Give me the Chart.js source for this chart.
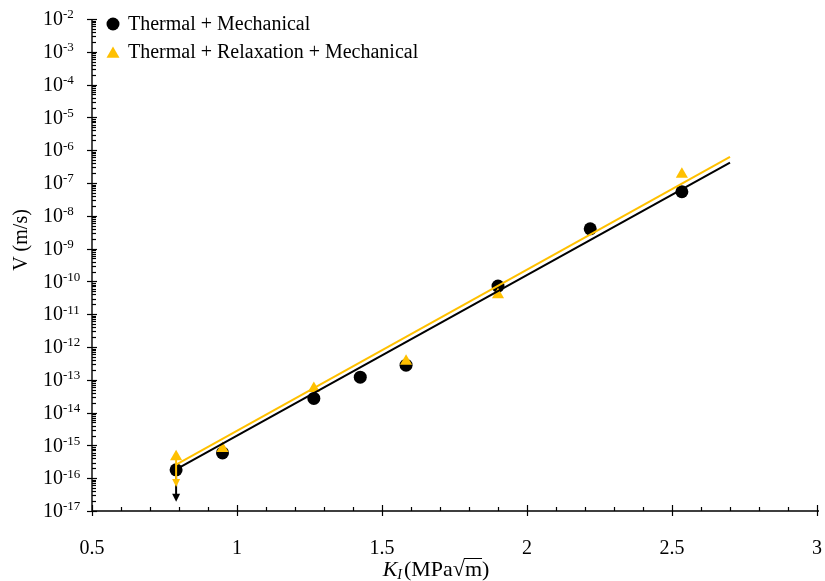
<!DOCTYPE html>
<html>
<head>
<meta charset="utf-8">
<script src="https://cdn.jsdelivr.net/npm/chart.js@4/dist/chart.umd.min.js"></script>
<style>
  html, body { margin: 0; padding: 0; background: #ffffff; }
  #wrap { width: 825px; height: 581px; }
</style>
</head>
<body>
<div id="wrap"><canvas id="c" width="825" height="581"></canvas></div>
<script>
// Crack velocity V versus stress intensity factor K_I
const kThermalMech = [0.79, 0.95, 1.265, 1.425, 1.583, 1.90, 2.218, 2.534];
const vThermalMech = [1.8e-16, 5.9e-16, 2.7e-14, 1.2e-13, 2.8e-13, 7.2e-11, 4.0e-9, 5.4e-8];

const kThermalRelaxMech = [0.79, 0.95, 1.265, 1.583, 1.90, 2.534];
const vThermalRelaxMech = [4.5e-16, 8.1e-16, 5.4e-14, 3.7e-13, 3.9e-11, 1.85e-7];

// Exponential fit lines (end points)
const fitK = [0.79, 2.70];
const fitThermalMech = [1.86e-16, 4.2e-7];
const fitThermalRelaxMech = [2.6e-16, 6.3e-7];

// Upper-bound arrows at the lowest K_I
const boundK = [0.79];
const boundEndThermalMech = [1.9e-17];
const boundEndThermalRelaxMech = [5.4e-17];

// Axis ticks
const xTickValues = [0.5, 1, 1.5, 2, 2.5, 3];
const xTickLabels = ['0.5', '1', '1.5', '2', '2.5', '3'];
const yExponents = [-17, -16, -15, -14, -13, -12, -11, -10, -9, -8, -7, -6, -5, -4, -3, -2];

const BLACK = '#000000';
const GOLD = '#FFC000';
const SERIF = "'Liberation Serif', 'Times New Roman', serif";

const pts = (xs, ys) => xs.map((x, i) => ({ x: x, y: ys[i] }));

function arrow(ctx, x, y0, y1, color) {
  ctx.save();
  ctx.strokeStyle = color;
  ctx.fillStyle = color;
  ctx.lineWidth = 2;
  ctx.beginPath();
  ctx.moveTo(x, y0);
  ctx.lineTo(x, y1 - 5);
  ctx.stroke();
  ctx.beginPath();
  ctx.moveTo(x - 4, y1 - 8);
  ctx.lineTo(x + 4, y1 - 8);
  ctx.lineTo(x, y1);
  ctx.closePath();
  ctx.fill();
  ctx.restore();
}

function triangle(ctx, x, y, r) {
  const a = Math.PI / 3;
  ctx.beginPath();
  ctx.moveTo(x, y - r);
  ctx.lineTo(x + Math.sin(a) * r, y + r / 2);
  ctx.lineTo(x - Math.sin(a) * r, y + r / 2);
  ctx.closePath();
  ctx.fill();
}

const boundsPlugin = {
  id: 'bounds',
  beforeDatasetsDraw(chart) {
    const ctx = chart.ctx, xs = chart.scales.x, ys = chart.scales.y;
    boundK.forEach((k, i) => {
      const px = xs.getPixelForValue(k);
      arrow(ctx, px, ys.getPixelForValue(vThermalMech[0]), ys.getPixelForValue(boundEndThermalMech[i]), BLACK);
    });
  },
  afterDatasetsDraw(chart) {
    const ctx = chart.ctx, xs = chart.scales.x, ys = chart.scales.y;
    boundK.forEach((k, i) => {
      const px = xs.getPixelForValue(k);
      arrow(ctx, px, ys.getPixelForValue(vThermalRelaxMech[0]), ys.getPixelForValue(boundEndThermalRelaxMech[i]), GOLD);
    });
  }
};

const axesPlugin = {
  id: 'axesDraw',
  afterDraw(chart) {
    const ctx = chart.ctx, xs = chart.scales.x, ys = chart.scales.y;
    const area = chart.chartArea;
    ctx.save();
    ctx.strokeStyle = '#000';
    ctx.fillStyle = '#000';
    ctx.lineWidth = 1.4;

    // axis lines
    ctx.beginPath();
    ctx.moveTo(area.left, area.top);
    ctx.lineTo(area.left, area.bottom);
    ctx.lineTo(area.right + 2, area.bottom);
    ctx.stroke();

    // x ticks: major crossing, minor inside
    ctx.lineWidth = 1.2;
    for (let i = 0; i <= 25; i++) {
      const v = 0.5 + i * 0.1;
      const px = Math.round(xs.getPixelForValue(v)) + 0.5;
      const major = i % 5 === 0;
      ctx.beginPath();
      ctx.moveTo(px, area.bottom + (major ? 5 : 0));
      ctx.lineTo(px, area.bottom - (major ? 6 : 4));
      ctx.stroke();
    }

    // y ticks: decades crossing, log minors inside
    yExponents.forEach((e) => {
      const py = Math.round(ys.getPixelForValue(Math.pow(10, e))) + 0.5;
      ctx.beginPath();
      ctx.moveTo(area.left - 5, py);
      ctx.lineTo(area.left + 5, py);
      ctx.stroke();
      if (e < -2) {
        for (let m = 2; m <= 9; m++) {
          const pm = Math.round(ys.getPixelForValue(m * Math.pow(10, e))) + 0.5;
          ctx.beginPath();
          ctx.moveTo(area.left, pm);
          ctx.lineTo(area.left + 4, pm);
          ctx.stroke();
        }
      }
    });

    // y tick labels 10^e
    ctx.textBaseline = 'middle';
    ctx.textAlign = 'left';
    yExponents.forEach((e) => {
      const py = ys.getPixelForValue(Math.pow(10, e));
      ctx.font = '20px ' + SERIF;
      ctx.fillText('10', 43, py + 1);
      const w = ctx.measureText('10').width;
      ctx.font = '13px ' + SERIF;
      ctx.fillText('-' + Math.abs(e), 43 + w, py - 4);
    });

    // x tick labels
    ctx.font = '20px ' + SERIF;
    ctx.textAlign = 'center';
    xTickValues.forEach((v, i) => {
      ctx.fillText(xTickLabels[i], xs.getPixelForValue(v), area.bottom + 38);
    });

    // x axis title: K_I (MPa √m)
    const ty = 570;
    const parts = [
      { t: 'K', f: 'italic 22px ' + SERIF, dy: 0, gap: 0 },
      { t: 'I', f: 'italic 14px ' + SERIF, dy: 5, gap: 2 },
      { t: '(MPa', f: '22px ' + SERIF, dy: 0, gap: 0 },
      { t: '\u221A', f: '22px ' + SERIF, dy: 0, gap: 0 },
      { t: 'm', f: '22px ' + SERIF, dy: 0, gap: 0 },
      { t: ')', f: '22px ' + SERIF, dy: 0, gap: 0 }
    ];
    let total = 0;
    parts.forEach((p) => { ctx.font = p.f; p.w = ctx.measureText(p.t).width; total += p.w + p.gap; });
    let cx = 436 - total / 2;
    ctx.textAlign = 'left';
    parts.forEach((p) => {
      ctx.font = p.f;
      ctx.fillText(p.t, cx, ty + p.dy);
      if (p.t === 'm') {
        ctx.lineWidth = 1;
        ctx.beginPath();
        ctx.moveTo(cx - 1, ty - 11.5);
        ctx.lineTo(cx + p.w, ty - 11.5);
        ctx.stroke();
      }
      cx += p.w + p.gap;
    });

    // y axis title
    ctx.save();
    ctx.translate(22, 240);
    ctx.rotate(-Math.PI / 2);
    ctx.textAlign = 'center';
    ctx.font = '20px ' + SERIF;
    ctx.fillText('V (m/s)', 0, 0);
    ctx.restore();

    // legend
    const ds = chart.data.datasets;
    ctx.font = '20px ' + SERIF;
    ctx.textAlign = 'left';
    ctx.fillStyle = BLACK;
    ctx.beginPath();
    ctx.arc(113, 24, 6.5, 0, Math.PI * 2);
    ctx.fill();
    ctx.fillText(ds[0].label, 128, 25);
    ctx.fillStyle = GOLD;
    triangle(ctx, 113, 54, 7.5);
    ctx.fillStyle = BLACK;
    ctx.fillText(ds[1].label, 128, 53);
    ctx.restore();
  }
};

new Chart(document.getElementById('c'), {
  type: 'scatter',
  data: {
    datasets: [
      {
        label: 'Thermal + Mechanical',
        data: pts(kThermalMech, vThermalMech),
        pointStyle: 'circle',
        pointRadius: 6.5,
        backgroundColor: BLACK,
        borderColor: BLACK,
        borderWidth: 0,
        showLine: false,
        order: 5
      },
      {
        label: 'Thermal + Relaxation + Mechanical',
        data: pts(kThermalRelaxMech, vThermalRelaxMech),
        pointStyle: 'triangle',
        pointRadius: 7,
        backgroundColor: GOLD,
        borderColor: GOLD,
        borderWidth: 0,
        showLine: false,
        order: 4
      },
      {
        label: 'fit-mech',
        data: pts(fitK, fitThermalMech),
        showLine: true,
        pointRadius: 0,
        borderColor: BLACK,
        borderWidth: 2,
        order: 2
      },
      {
        label: 'fit-relax',
        data: pts(fitK, fitThermalRelaxMech),
        showLine: true,
        pointRadius: 0,
        borderColor: GOLD,
        borderWidth: 2,
        order: 1
      }
    ]
  },
  options: {
    responsive: false,
    animation: false,
    layout: { padding: { left: 92, right: 8, top: 19, bottom: 70 } },
    scales: {
      x: { type: 'linear', min: 0.5, max: 3, display: false },
      y: { type: 'logarithmic', min: 1e-17, max: 1e-2, display: false }
    },
    plugins: {
      legend: { display: false },
      tooltip: { enabled: false }
    }
  },
  plugins: [boundsPlugin, axesPlugin]
});
</script>
</body>
</html>
